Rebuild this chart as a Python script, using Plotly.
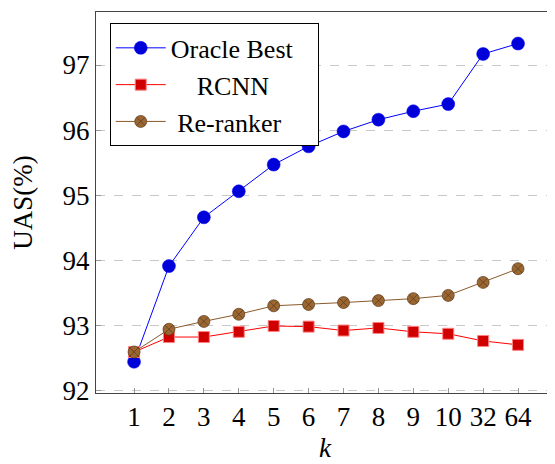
import plotly.graph_objects as go

k_labels = ["1", "2", "3", "4", "5", "6", "7", "8", "9", "10", "32", "64"]
oracle_best = [92.44, 93.91, 94.66, 95.06, 95.47, 95.75, 95.98, 96.16, 96.29, 96.40, 97.17, 97.33]
rcnn = [92.59, 92.82, 92.82, 92.90, 92.99, 92.98, 92.92, 92.96, 92.90, 92.87, 92.76, 92.70]
reranker = [92.59, 92.94, 93.06, 93.17, 93.30, 93.32, 93.35, 93.38, 93.41, 93.46, 93.66, 93.87]
y_ticks = [92, 93, 94, 95, 96, 97]

xs = list(range(len(k_labels)))
font = "Liberation Serif"
fs = 27

fig = go.Figure()
fig.add_trace(go.Scatter(
    x=xs, y=oracle_best, mode="lines+markers", name="Oracle Best\u00a0\u00a0\u00a0",
    line=dict(color="#0000ff", width=1),
    marker=dict(symbol="circle", size=13, color="#0000d8", line=dict(color="#0000ff", width=0.5)),
))
fig.add_trace(go.Scatter(
    x=xs, y=rcnn, mode="lines+markers", name="\u00a0\u00a0\u00a0\u00a0RCNN",
    line=dict(color="#ff0000", width=1),
    marker=dict(symbol="square", size=11, color="#d00000", line=dict(color="#ff8080", width=1)),
))
fig.add_trace(go.Scatter(
    x=xs, y=reranker, mode="lines+markers", name="\u00a0Re-ranker",
    line=dict(color="#8b5a2b", width=1),
    marker=dict(symbol="circle-x", size=12, color="#9a6632", line=dict(color="#5a3a1a", width=0.7)),
))

fig.update_layout(
    width=547, height=456,
    margin=dict(l=88, r=1, t=4, b=71, autoexpand=False),
    paper_bgcolor="white", plot_bgcolor="white",
    font=dict(family=font, size=fs, color="black"),
    showlegend=True,
    legend=dict(
        x=0.03, y=0.97, xanchor="left", yanchor="top",
        bordercolor="black", borderwidth=1, bgcolor="white",
        font=dict(family=font, size=26), tracegroupgap=0, itemwidth=50,
    ),
    xaxis=dict(
        range=[-1.09, 12.03], tickmode="array", tickvals=xs, ticktext=k_labels,
        showgrid=False, zeroline=False, automargin=False,
        showline=True, linecolor="#444", linewidth=1, mirror=True,
        ticks="inside", ticklen=5, tickcolor="#999",
        title=dict(text="<i>k</i>", font=dict(family=font, size=fs), standoff=6),
        tickfont=dict(family=font, size=fs),
    ),
    yaxis=dict(
        range=[91.96, 97.815], tickmode="array", tickvals=y_ticks,
        ticktext=[str(v) for v in y_ticks],
        showgrid=True, gridcolor="#c8c8c8", griddash="dash", gridwidth=1,
        zeroline=False, automargin=False,
        showline=True, linecolor="#444", linewidth=1, mirror=True,
        ticks="inside", ticklen=5, tickcolor="#999",
        title=dict(text="UAS(%)", font=dict(family=font, size=fs), standoff=24),
        tickfont=dict(family=font, size=fs),
    ),
)

fig.write_html("out.html")
